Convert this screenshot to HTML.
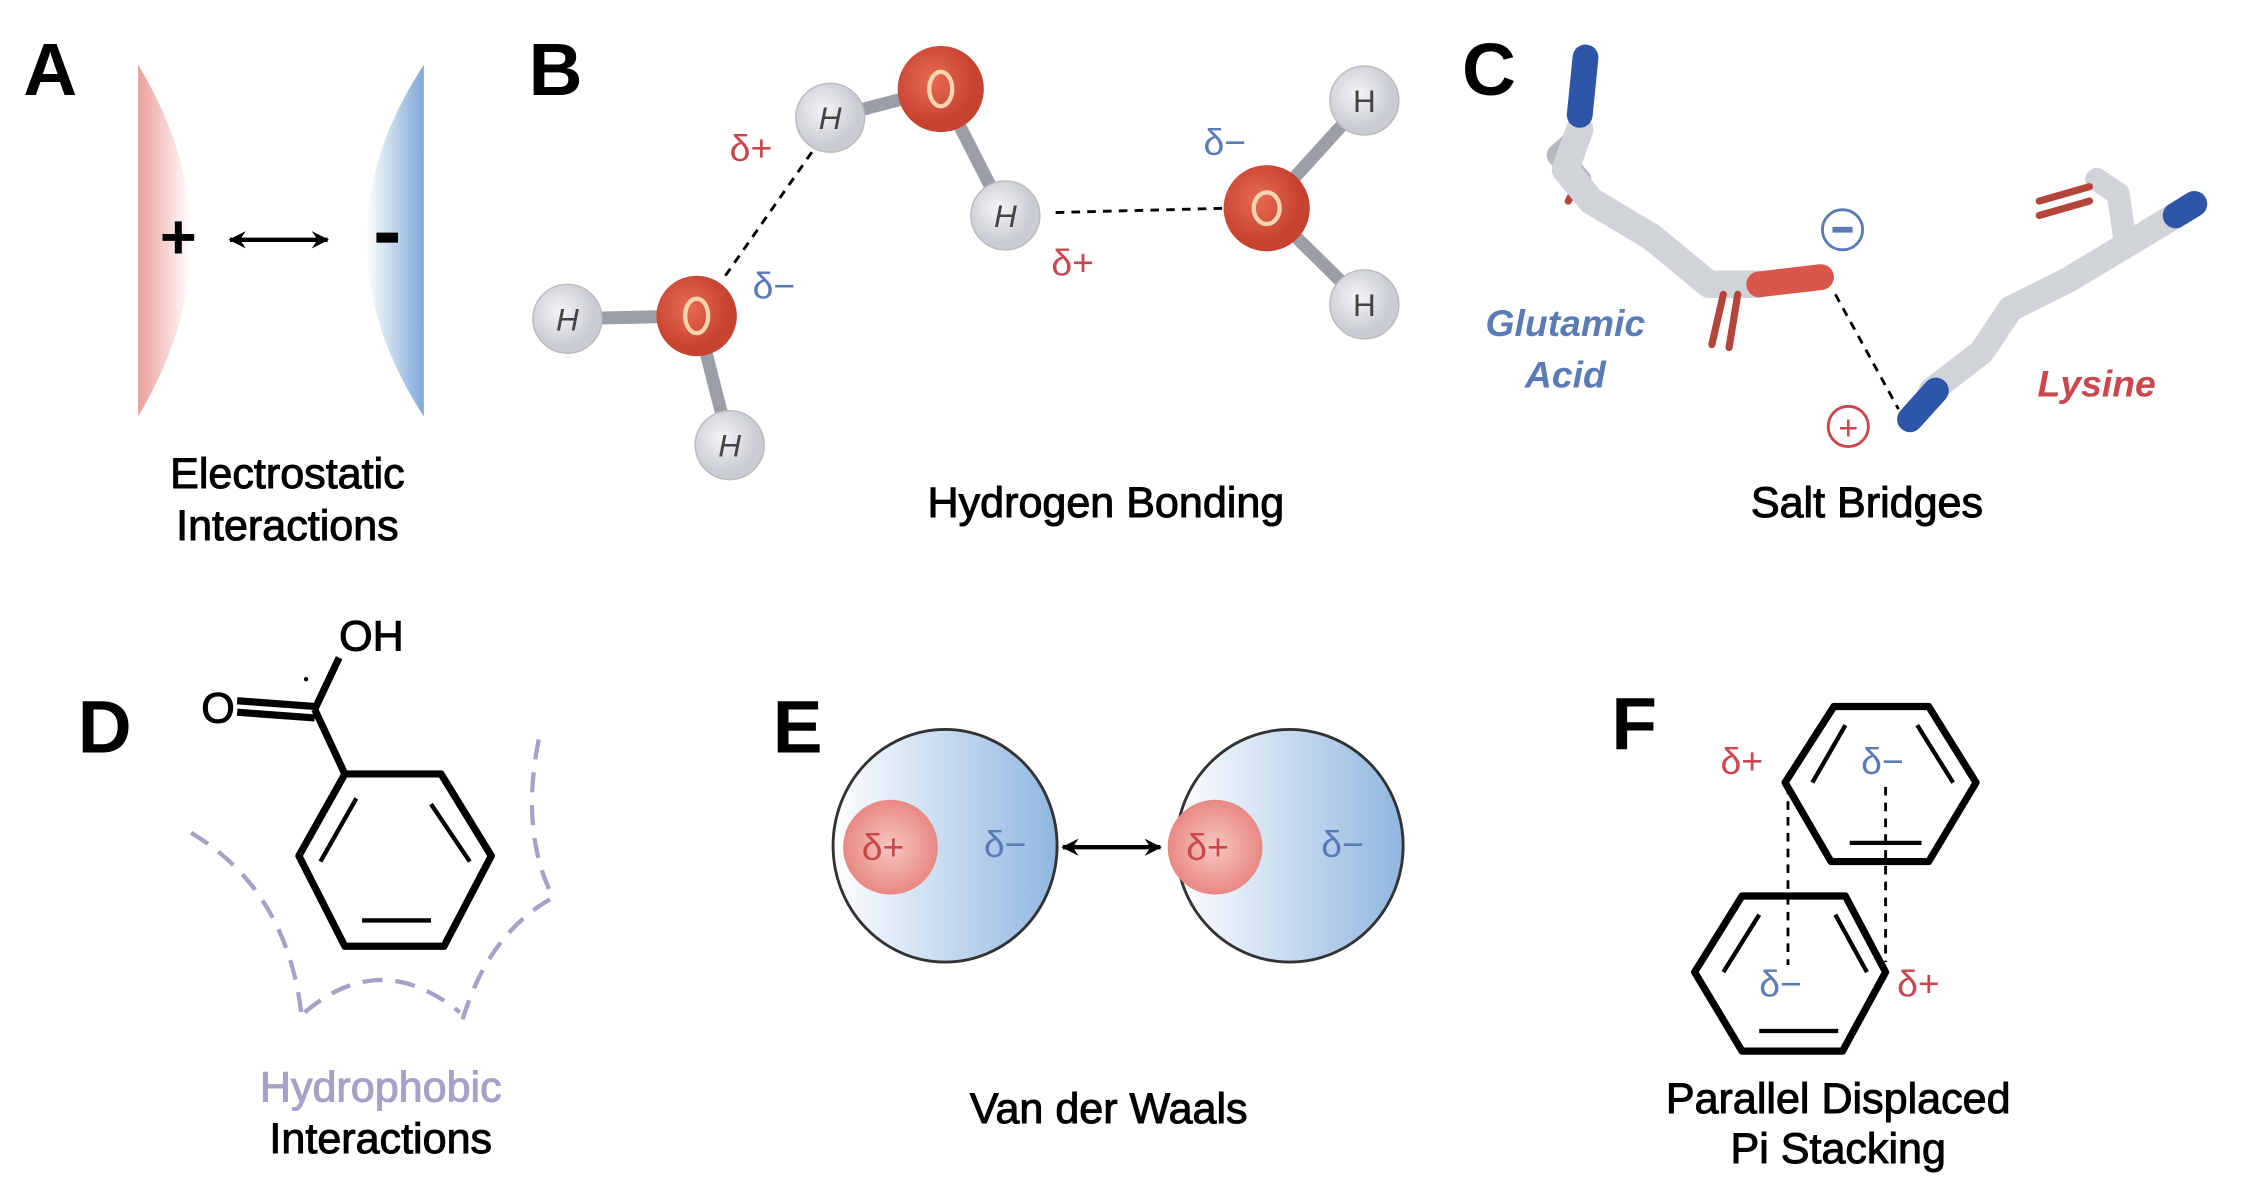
<!DOCTYPE html>
<html><head><meta charset="utf-8"><style>
html,body{margin:0;padding:0;background:#fff;}
svg{display:block;}
text{font-family:"Liberation Sans",sans-serif;}
.lb{stroke:#000;stroke-width:0.7;}
</style></head><body>
<svg width="2252" height="1199" viewBox="0 0 1568 835" xmlns="http://www.w3.org/2000/svg">
<defs>
<linearGradient id="rg" x1="0" x2="1"><stop offset="0" stop-color="#ec9f9c"/><stop offset="1" stop-color="#fff"/></linearGradient>
<linearGradient id="bg" x1="1" x2="0"><stop offset="0" stop-color="#7fa9d8"/><stop offset="1" stop-color="#fff"/></linearGradient>
<linearGradient id="cg" x1="0" x2="1"><stop offset="0" stop-color="#fff"/><stop offset="1" stop-color="#8fb6e0"/></linearGradient>
<radialGradient id="pg"><stop offset="0" stop-color="#f7c7c0"/><stop offset="1" stop-color="#e98883"/></radialGradient>
<radialGradient id="og" cx="0.4" cy="0.4"><stop offset="0" stop-color="#e86a52"/><stop offset="1" stop-color="#c6432f"/></radialGradient>
<radialGradient id="hg" cx="0.4" cy="0.4"><stop offset="0" stop-color="#f4f5f7"/><stop offset="1" stop-color="#c9ccd3"/></radialGradient>
<marker id="ah" markerUnits="userSpaceOnUse" markerWidth="14" markerHeight="14" refX="11" refY="7" orient="auto-start-reverse"><path d="M0,1 L12,7 L0,13 L4,7 Z" fill="#000"/></marker>
</defs>
<g font-weight="bold" font-size="52" fill="#000">
<text x="16" y="66">A</text><text x="368" y="66">B</text><text x="1018" y="66">C</text>
<text x="54" y="524">D</text><text x="538" y="524">E</text><text x="1122" y="522">F</text>
</g>
<!-- A -->
<path d="M96,45 Q170,167 96,290 Z" fill="url(#rg)"/>
<path d="M295,45 Q215,167 295,290 Z" fill="url(#bg)"/>
<text x="124" y="180" font-size="44" font-weight="bold" text-anchor="middle">+</text>
<rect x="262" y="162" width="15" height="7" fill="#000"/>
<line x1="160" y1="167" x2="228" y2="167" stroke="#000" stroke-width="3" marker-start="url(#ah)" marker-end="url(#ah)"/>
<g font-size="30" text-anchor="middle" class="lb"><text x="200" y="340">Electrostatic</text><text x="200" y="376">Interactions</text></g>
<!-- B -->
<g stroke="#9a9ea6" stroke-width="9" stroke-linecap="round">
<line x1="395" y1="222" x2="485" y2="220"/><line x1="485" y1="220" x2="508" y2="310"/>
<line x1="578" y1="82" x2="655" y2="62"/><line x1="655" y1="62" x2="700" y2="150"/>
<line x1="882" y1="145" x2="950" y2="70"/><line x1="882" y1="145" x2="950" y2="212"/>
</g>
<g stroke="#000" stroke-width="2" stroke-dasharray="6,5"><line x1="505" y1="192" x2="568" y2="102"/><line x1="735" y1="148" x2="855" y2="145"/></g>
<g fill="url(#og)"><circle cx="485" cy="220" r="28"/><circle cx="655" cy="62" r="30"/><circle cx="882" cy="145" r="30"/></g>
<g fill="none" stroke="#f3d6b0" stroke-width="3"><ellipse cx="485" cy="220" rx="8" ry="12"/><ellipse cx="655" cy="62" rx="8" ry="12"/><ellipse cx="882" cy="145" rx="9" ry="11"/></g>
<g fill="url(#hg)" stroke="#bbb" stroke-width="1"><circle cx="395" cy="222" r="24"/><circle cx="508" cy="310" r="24"/><circle cx="578" cy="82" r="24"/><circle cx="700" cy="150" r="24"/><circle cx="950" cy="70" r="24"/><circle cx="950" cy="212" r="24"/></g>
<g font-size="22" font-style="italic" fill="#444" text-anchor="middle"><text x="395" y="230">H</text><text x="508" y="318">H</text><text x="578" y="90">H</text><text x="700" y="158">H</text><text x="950" y="78" font-style="normal">H</text><text x="950" y="220" font-style="normal">H</text></g>
<g font-size="26"><text x="508" y="112" fill="#c9474d">δ+</text><text x="524" y="208" fill="#5a7bb5">δ−</text><text x="732" y="192" fill="#c9474d">δ+</text><text x="838" y="108" fill="#5a7bb5">δ−</text></g>
<text x="770" y="360" font-size="30" text-anchor="middle" class="lb">Hydrogen Bonding</text>
<!-- C -->
<g fill="none" stroke-linecap="round" stroke-linejoin="round">
<polyline points="1100,95 1085,108 1100,125" stroke="#b5b8be" stroke-width="16"/>
<line x1="1100" y1="125" x2="1092" y2="140" stroke="#b5453a" stroke-width="5"/>
<polyline points="1100,90 1090,118 1108,140 1150,165 1190,198 1225,198" stroke="#d0d3d8" stroke-width="19"/>
<line x1="1104" y1="40" x2="1100" y2="80" stroke="#2d55a8" stroke-width="18"/>
<line x1="1225" y1="198" x2="1268" y2="193" stroke="#d9564a" stroke-width="18"/>
<line x1="1200" y1="205" x2="1192" y2="240" stroke="#b5453a" stroke-width="5"/>
<line x1="1210" y1="205" x2="1204" y2="242" stroke="#b5453a" stroke-width="5"/>
<polyline points="1345,272 1380,245 1400,215 1440,195 1490,165 1515,150" stroke="#d0d3d8" stroke-width="18"/>
<polyline points="1480,170 1475,135 1460,125" stroke="#d0d3d8" stroke-width="16"/>
<line x1="1455" y1="130" x2="1420" y2="140" stroke="#b5453a" stroke-width="5"/>
<line x1="1455" y1="140" x2="1420" y2="150" stroke="#b5453a" stroke-width="5"/>
<line x1="1330" y1="292" x2="1348" y2="272" stroke="#2d55a8" stroke-width="18"/>
<line x1="1515" y1="150" x2="1528" y2="142" stroke="#2d55a8" stroke-width="18"/>
</g>
<line x1="1278" y1="205" x2="1322" y2="285" stroke="#000" stroke-width="2" stroke-dasharray="6,5"/>
<circle cx="1283" cy="160" r="14" fill="none" stroke="#5a7bb5" stroke-width="2"/><rect x="1276" y="158" width="14" height="4" fill="#5a7bb5"/>
<circle cx="1287" cy="297" r="14" fill="none" stroke="#c9474d" stroke-width="2"/><text x="1287" y="306" font-size="24" fill="#c9474d" text-anchor="middle">+</text>
<g font-size="26" font-weight="bold" font-style="italic" text-anchor="middle"><text x="1090" y="234" fill="#5a7bb5">Glutamic</text><text x="1090" y="270" fill="#5a7bb5">Acid</text><text x="1460" y="276" fill="#c9474d">Lysine</text></g>
<text x="1300" y="360" font-size="30" text-anchor="middle" class="lb">Salt Bridges</text>
<!-- D -->
<g fill="none" stroke="#000" stroke-width="5" stroke-linejoin="round">
<polygon points="240,539 307,539 342,596 309,659 240,659 208,596"/>
<line x1="240" y1="539" x2="219" y2="494"/><line x1="219" y1="494" x2="236" y2="458"/>
<line x1="219" y1="492" x2="165" y2="488"/><line x1="219" y1="500" x2="165" y2="496"/>
</g>
<g stroke="#000" stroke-width="3"><line x1="248" y1="556" x2="223" y2="600"/><line x1="300" y1="560" x2="327" y2="600"/><line x1="252" y1="641" x2="300" y2="641"/></g>
<text x="140" y="503" font-size="30" class="lb">O</text><text x="236" y="453" font-size="30" class="lb">OH</text><circle cx="213" cy="473" r="1.5" fill="#000"/>
<g fill="none" stroke="#a9a0c6" stroke-width="3" stroke-dasharray="14,9">
<path d="M133,580 Q200,620 210,708"/><path d="M212,705 Q265,660 320,705"/><path d="M375,515 Q362,580 385,625 Q340,650 322,710"/>
</g>
<g font-size="30" text-anchor="middle"><text x="265" y="767" fill="#a9a0c6" stroke="#a9a0c6" stroke-width="0.7">Hydrophobic</text><text x="265" y="803" class="lb">Interactions</text></g>
<!-- E -->
<ellipse cx="658" cy="589" rx="78" ry="81" fill="url(#cg)" stroke="#333" stroke-width="2"/>
<ellipse cx="898" cy="589" rx="79" ry="81" fill="url(#cg)" stroke="#333" stroke-width="2"/>
<circle cx="620" cy="590" r="33" fill="url(#pg)"/><circle cx="846" cy="590" r="33" fill="url(#pg)"/>
<g font-size="26"><text x="600" y="599" fill="#c9474d">δ+</text><text x="826" y="599" fill="#c9474d">δ+</text><text x="685" y="597" fill="#5a7bb5">δ−</text><text x="920" y="597" fill="#5a7bb5">δ−</text></g>
<line x1="740" y1="590" x2="808" y2="590" stroke="#000" stroke-width="3" marker-start="url(#ah)" marker-end="url(#ah)"/>
<text x="772" y="782" font-size="30" text-anchor="middle" class="lb">Van der Waals</text>
<!-- F -->
<g fill="none" stroke="#000" stroke-width="5" stroke-linejoin="round">
<polygon points="1277,492 1343,492 1376,545 1343,600 1275,600 1243,545"/>
<polygon points="1213,624 1285,624 1313,677 1283,732 1213,732 1180,677"/>
</g>
<g stroke="#000" stroke-width="3"><line x1="1285" y1="505" x2="1262" y2="545"/><line x1="1335" y1="505" x2="1360" y2="545"/><line x1="1288" y1="587" x2="1338" y2="587"/>
<line x1="1225" y1="637" x2="1200" y2="677"/><line x1="1278" y1="637" x2="1300" y2="677"/><line x1="1225" y1="718" x2="1280" y2="718"/></g>
<g stroke="#000" stroke-width="2" stroke-dasharray="6,5"><line x1="1245" y1="547" x2="1245" y2="672"/><line x1="1313" y1="548" x2="1313" y2="670"/></g>
<g font-size="26"><text x="1198" y="539" fill="#c9474d">δ+</text><text x="1296" y="539" fill="#5a7bb5">δ−</text><text x="1225" y="694" fill="#5a7bb5">δ−</text><text x="1321" y="694" fill="#c9474d">δ+</text></g>
<g font-size="30" text-anchor="middle" class="lb"><text x="1280" y="775">Parallel Displaced</text><text x="1280" y="810">Pi Stacking</text></g>
</svg>
</body></html>
